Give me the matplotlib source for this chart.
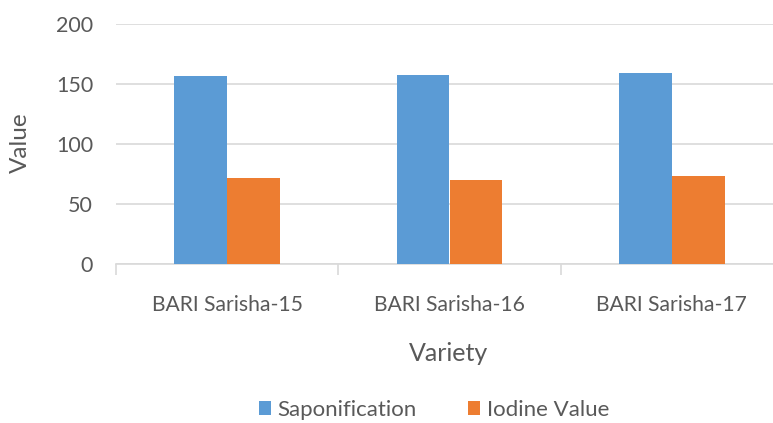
import matplotlib
matplotlib.use("Agg")
import matplotlib.pyplot as plt
import numpy as np
from matplotlib.patches import Patch

categories = ["BARI Sarisha-15", "BARI Sarisha-16", "BARI Sarisha-17"]
saponification = [156.5, 157.7, 158.8]
iodine = [71.9, 69.6, 73.0]
series_names = ["Saponification", "Iodine Value"]
yticks = [0, 50, 100, 150, 200]

blue = "#5B9BD5"
orange = "#ED7D31"
grey_text = "#595959"
grid_c = "#D9D9D9"

plt.rcParams['font.family'] = ['Lato', 'DejaVu Sans']

W, H = 773, 423
fig = plt.figure(figsize=(W / 100, H / 100), dpi=100)
fig.patch.set_facecolor("white")
left, right, bottom, top = 116, 783, 264, 24
ax = fig.add_axes([left / W, (H - bottom) / H, (right - left) / W, (bottom - top) / H])

x = np.arange(len(categories))
bw = 0.238
ax.bar(x - bw / 2, saponification, bw, color=blue, zorder=3, label=series_names[0])
ax.bar(x + bw / 2, iodine, bw, color=orange, zorder=3, label=series_names[1])

ax.set_xlim(-0.5, len(categories) - 0.5)
ax.set_ylim(0, 200)
ax.set_yticks(yticks)
ax.yaxis.grid(True, color=grid_c, linewidth=1.2, zorder=0)
ax.set_axisbelow(True)
for s in ["top", "right", "left"]:
    ax.spines[s].set_visible(False)
ax.spines["bottom"].set_color(grid_c)
ax.spines["bottom"].set_linewidth(1.2)

ax.tick_params(axis="y", length=0, pad=16.5, labelsize=15.5, labelcolor=grey_text)
ax.set_xticks(x)
ax.set_xticklabels(categories, fontsize=15.2, color=grey_text)
ax.tick_params(axis="x", length=0, pad=22)
# category boundary tick marks
ax.set_xticks(np.arange(-0.5, len(categories), 1.0), minor=True)
ax.tick_params(axis="x", which="minor", length=8, color=grid_c, width=1.2)

fig.text(20 / W, 1 - 143 / H, "Value", rotation=90, ha="center", va="center",
         fontsize=17.5, color=grey_text)
fig.text(449 / W, 1 - 353 / H, "Variety", ha="center", va="center",
         fontsize=18, color=grey_text)

handles = [Patch(facecolor=blue), Patch(facecolor=orange)]
fig.legend(handles, series_names, loc="center", bbox_to_anchor=(434 / W, 1 - 410 / H),
           ncol=2, frameon=False, fontsize=16, handlelength=0.55, handleheight=0.55,
           handletextpad=0.3, columnspacing=2.3, labelcolor=grey_text,
           borderpad=0, borderaxespad=0)

fig.savefig("out.png", dpi=100)
